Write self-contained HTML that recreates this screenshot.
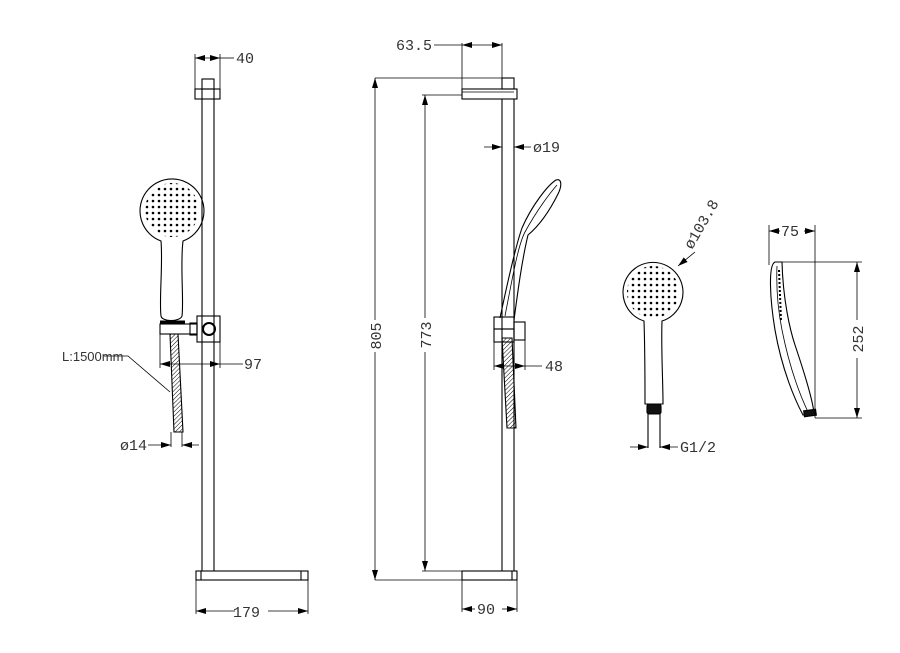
<!DOCTYPE html>
<html><head><style>
html,body{margin:0;padding:0;background:#fff;}
svg{display:block;}
text{font-family:"Liberation Mono","DejaVu Sans Mono",monospace;font-size:15px;fill:#333;}
</style></head><body>
<svg width="900" height="653" viewBox="0 0 900 653" xmlns="http://www.w3.org/2000/svg">
<defs>
<marker id="a" viewBox="0 0 10 6" refX="10" refY="3" markerWidth="10" markerHeight="6" orient="auto-start-reverse" markerUnits="userSpaceOnUse"><path d="M0,0 L10,3 L0,6 z" fill="#000"/></marker>
<pattern id="dots" width="6" height="6" patternUnits="userSpaceOnUse"><circle cx="3" cy="3" r="1.3" fill="#000"/></pattern>
<pattern id="hatch" width="3" height="3" patternUnits="userSpaceOnUse" patternTransform="rotate(45)"><line x1="0" y1="0" x2="0" y2="3" stroke="#000" stroke-width="1"/></pattern>
<clipPath id="c1"><circle cx="172" cy="210" r="27"/></clipPath>
<clipPath id="c2"><circle cx="653" cy="292" r="26"/></clipPath>
</defs>
<g fill="none" stroke="#000" stroke-width="1.1">
<!-- LEFT VIEW -->
<line x1="202" y1="99" x2="202" y2="571"/><line x1="214" y1="99" x2="214" y2="571"/>
<rect x="202" y="79" width="12" height="10"/>
<rect x="195" y="89" width="25" height="10"/>
<line x1="202" y1="89" x2="202" y2="99"/><line x1="214" y1="89" x2="214" y2="99"/>
<line x1="195" y1="54" x2="195" y2="89" stroke-width="0.8"/><line x1="220" y1="54" x2="220" y2="89" stroke-width="0.8"/>
<line x1="195" y1="58" x2="220" y2="58" stroke-width="0.8" marker-start="url(#a)" marker-end="url(#a)"/>
<line x1="220" y1="58" x2="234" y2="58" stroke-width="0.8"/>
<rect x="196" y="571" width="112" height="9"/>
<line x1="201" y1="571" x2="201" y2="580"/><line x1="301" y1="571" x2="301" y2="580"/>
<line x1="196" y1="580" x2="196" y2="614" stroke-width="0.8"/><line x1="308" y1="580" x2="308" y2="614" stroke-width="0.8"/>
<line x1="196" y1="611" x2="235" y2="611" stroke-width="0.8" marker-start="url(#a)"/>
<line x1="268" y1="611" x2="308" y2="611" stroke-width="0.8" marker-end="url(#a)"/>
<!-- handshower left -->
<path d="M161,241 A32,32 0 1 1 183,241 C180,265 184,300 182,316 C180,322 162,322 161,316 C159,300 163,265 161,241 Z"/>
<rect x="145" y="183" width="54" height="54" fill="url(#dots)" stroke="none" clip-path="url(#c1)"/>
<rect x="197" y="316" width="23" height="26"/>
<circle cx="209" cy="329" r="6" stroke-width="2"/>
<rect x="160" y="324" width="37" height="10"/>
<rect x="190" y="323" width="7" height="12"/>
<line x1="160" y1="322" x2="185" y2="322" stroke-width="3"/>
<polygon points="170,334 178,334 183,432 174,432" fill="url(#hatch)"/>
<line x1="160" y1="334" x2="160" y2="368" stroke-width="0.8"/><line x1="220" y1="342" x2="220" y2="368" stroke-width="0.8"/>
<line x1="160" y1="364" x2="220" y2="364" stroke-width="0.8" marker-start="url(#a)" marker-end="url(#a)"/>
<line x1="220" y1="364" x2="243" y2="364" stroke-width="0.8"/>
<polyline points="104,356 128,356 170,392" stroke-width="0.8"/>
<line x1="171" y1="432" x2="171" y2="447" stroke-width="0.8"/><line x1="182" y1="432" x2="182" y2="447" stroke-width="0.8"/>
<line x1="148" y1="445" x2="171" y2="445" stroke-width="0.8" marker-end="url(#a)"/>
<line x1="199" y1="445" x2="182" y2="445" stroke-width="0.8" marker-end="url(#a)"/>
<!-- MIDDLE VIEW -->
<line x1="502" y1="99" x2="502" y2="571"/><line x1="514" y1="99" x2="514" y2="571"/>
<rect x="502" y="78" width="12" height="11"/>
<rect x="462" y="89" width="55" height="10"/>
<line x1="462" y1="92" x2="514" y2="92" stroke-width="0.8"/>
<line x1="462" y1="43" x2="462" y2="89" stroke-width="0.8"/><line x1="502" y1="43" x2="502" y2="78" stroke-width="0.8"/>
<line x1="462" y1="45" x2="502" y2="45" stroke-width="0.8" marker-start="url(#a)" marker-end="url(#a)"/>
<line x1="434" y1="45" x2="462" y2="45" stroke-width="0.8"/>
<line x1="375" y1="78" x2="502" y2="78" stroke-width="0.8"/>
<line x1="375" y1="78" x2="375" y2="320" stroke-width="0.8" marker-start="url(#a)"/>
<line x1="375" y1="352" x2="375" y2="580" stroke-width="0.8" marker-end="url(#a)"/>
<line x1="422" y1="95" x2="462" y2="95" stroke-width="0.8"/>
<line x1="425" y1="95" x2="425" y2="318" stroke-width="0.8" marker-start="url(#a)"/>
<line x1="425" y1="352" x2="425" y2="571" stroke-width="0.8" marker-end="url(#a)"/>
<line x1="375" y1="580" x2="462" y2="580" stroke-width="0.8"/>
<line x1="422" y1="571" x2="462" y2="571" stroke-width="0.8"/>
<rect x="462" y="571" width="55" height="9"/>
<line x1="512" y1="571" x2="512" y2="580"/>
<line x1="462" y1="580" x2="462" y2="612" stroke-width="0.8"/><line x1="517" y1="580" x2="517" y2="612" stroke-width="0.8"/>
<line x1="462" y1="609" x2="475" y2="609" stroke-width="0.8" marker-start="url(#a)"/>
<line x1="502" y1="609" x2="517" y2="609" stroke-width="0.8" marker-end="url(#a)"/>
<line x1="484" y1="147" x2="502" y2="147" stroke-width="0.8" marker-end="url(#a)"/>
<line x1="531" y1="147" x2="514" y2="147" stroke-width="0.8" marker-end="url(#a)"/>
<!-- side handshower -->
<path d="M500,318 C508,280 516,245 522,228 C532,205 548,185 556,180 C562,178 562,186 558,194 C550,210 540,225 528,235 C522,260 518,290 514,320"/>
<path d="M505,316 C512,280 518,245 525,232 C537,210 550,193 557,185" stroke-width="0.8"/>
<rect x="494" y="317" width="20" height="12"/>
<rect x="494" y="329" width="20" height="13"/>
<rect x="514" y="322" width="11" height="18"/>
<polygon points="502,338 512,338 516,428 507,428" fill="url(#hatch)"/>
<line x1="494" y1="342" x2="494" y2="370" stroke-width="0.8"/><line x1="525" y1="340" x2="525" y2="370" stroke-width="0.8"/>
<line x1="494" y1="366" x2="525" y2="366" stroke-width="0.8" marker-start="url(#a)" marker-end="url(#a)"/>
<line x1="525" y1="366" x2="542" y2="366" stroke-width="0.8"/>
<!-- FRONT HANDSHOWER -->
<path d="M644,321 A30,30 0 1 1 662,321 C661,350 663,380 663,404 L645,404 C645,380 645,350 644,321 Z"/>
<rect x="625" y="264" width="56" height="56" fill="url(#dots)" stroke="none" clip-path="url(#c2)"/>
<rect x="647" y="404" width="14" height="10" fill="#111" rx="2"/>
<line x1="648" y1="414" x2="648" y2="448"/><line x1="660" y1="414" x2="660" y2="448"/>
<line x1="630" y1="447" x2="648" y2="447" stroke-width="0.8" marker-end="url(#a)"/>
<line x1="678" y1="447" x2="660" y2="447" stroke-width="0.8" marker-end="url(#a)"/>
<line x1="695" y1="252" x2="678" y2="266" stroke-width="0.8" marker-end="url(#a)"/>
<!-- SIDE HANDSHOWER -->
<path d="M775,262 C768,265 770,300 775,330 C782,370 795,400 803,415 L814,413 C812,395 800,360 795,345 C790,330 783,300 782,262 Z"/>
<path d="M777,266 C776,290 778,310 782,330 C790,370 800,395 808,412" stroke-width="0.8"/>
<line x1="779" y1="270" x2="781" y2="320" stroke-width="2" stroke-dasharray="2 2"/>
<rect x="804" y="410" width="12" height="6" fill="#111" transform="rotate(-8 810 413)"/>
<line x1="769" y1="225" x2="769" y2="265" stroke-width="0.8"/><line x1="815" y1="225" x2="815" y2="418" stroke-width="0.8"/>
<line x1="769" y1="231" x2="780" y2="231" stroke-width="0.8" marker-start="url(#a)"/>
<line x1="804" y1="231" x2="815" y2="231" stroke-width="0.8" marker-end="url(#a)"/>
<line x1="782" y1="262" x2="862" y2="262" stroke-width="0.8"/>
<line x1="815" y1="418" x2="862" y2="418" stroke-width="0.8"/>
<line x1="857" y1="262" x2="857" y2="320" stroke-width="0.8" marker-start="url(#a)"/>
<line x1="857" y1="358" x2="857" y2="418" stroke-width="0.8" marker-end="url(#a)"/>
</g>
<text x="236" y="63">40</text>
<text x="244" y="369">97</text>
<text x="62" y="361" style="font-family:'Liberation Sans',sans-serif;font-size:13px">L:1500mm</text>
<text x="120" y="450">ø14</text>
<text x="233" y="617">179</text>
<text x="396" y="50">63.5</text>
<text x="533" y="152">ø19</text>
<text x="545" y="371">48</text>
<text x="477" y="614">90</text>
<text transform="translate(381,336) rotate(-90)" text-anchor="middle">805</text>
<text transform="translate(431,335) rotate(-90)" text-anchor="middle">773</text>
<text x="680" y="452">G1/2</text>
<text transform="translate(692,250) rotate(-60)">ø103.8</text>
<text x="781" y="236">75</text>
<text transform="translate(863,339) rotate(-90)" text-anchor="middle">252</text>
</svg>
</body></html>
